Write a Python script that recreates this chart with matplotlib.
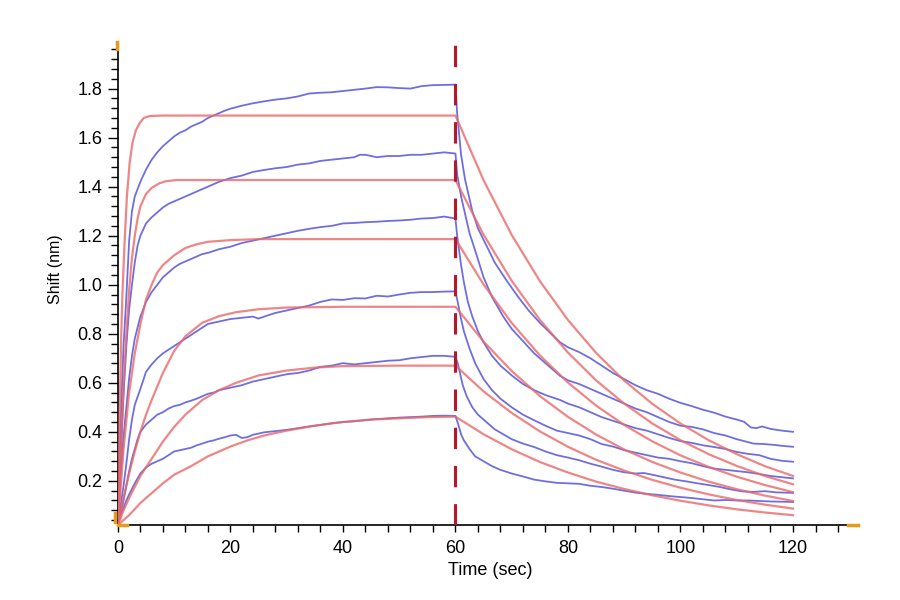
import numpy as np
import matplotlib.pyplot as plt

plt.rcParams['font.family'] = ['Liberation Sans', 'DejaVu Sans']

# fitted curves (red): association part, (time, shift)
fit1_assoc = [(0, 0.02), (0.3, 0.45), (0.6, 0.8), (0.8, 0.96), (1.2, 1.18), (1.6, 1.36),
              (2.1, 1.50), (2.6, 1.58), (3.2, 1.63), (3.9, 1.66), (4.6, 1.68), (5.6, 1.688),
              (8, 1.69), (60, 1.69)]
fit2_assoc = [(0, 0.02), (0.5, 0.3), (1, 0.58), (1.5, 0.8), (2, 0.98), (2.5, 1.11), (3, 1.20),
              (3.5, 1.27), (4, 1.32), (5, 1.37), (6, 1.395), (7.4, 1.414), (8.5, 1.422),
              (10.4, 1.427), (60, 1.427)]
fit3_assoc = [(0, 0.02), (1, 0.33), (2, 0.56), (3, 0.72), (4, 0.84), (5, 0.94), (6, 1.0),
              (7, 1.05), (8, 1.08), (10, 1.12), (12, 1.15), (14, 1.165), (16, 1.175),
              (20, 1.182), (25, 1.186), (60, 1.186)]
fit4_assoc = [(0, 0.02), (1, 0.13), (2, 0.23), (3, 0.32), (4, 0.40), (5, 0.47), (6, 0.53),
              (8, 0.64), (10, 0.73), (12, 0.79), (15, 0.845), (18, 0.872), (21, 0.888),
              (25, 0.90), (30, 0.907), (40, 0.91), (60, 0.91)]
fit5_assoc = [(0, 0.02), (1, 0.08), (2, 0.13), (4, 0.22), (6, 0.29), (8, 0.36), (10, 0.42),
              (12, 0.47), (15, 0.53), (18, 0.57), (21, 0.60), (25, 0.63), (30, 0.65),
              (35, 0.662), (40, 0.668), (50, 0.67), (60, 0.67)]
fit6_assoc = [(0, 0.02), (2, 0.06), (4, 0.11), (6, 0.15), (8, 0.19), (10, 0.225), (13, 0.26),
              (16, 0.30), (20, 0.34), (23, 0.365), (26, 0.385), (30, 0.405), (35, 0.425),
              (40, 0.44), (45, 0.45), (50, 0.455), (55, 0.46), (60, 0.462)]

# fitted curves (red): dissociation part
diss_t = [60, 65, 70, 75, 80, 85, 90, 95, 100, 105, 110, 115, 120]
fit1_diss = [1.69, 1.426, 1.203, 1.015, 0.856, 0.722, 0.609, 0.514, 0.434, 0.366, 0.309, 0.260, 0.220]
fit2_diss = [1.427, 1.204, 1.016, 0.857, 0.723, 0.610, 0.515, 0.434, 0.366, 0.309, 0.261, 0.220, 0.186]
fit3_diss = [1.186, 1.001, 0.844, 0.712, 0.601, 0.507, 0.428, 0.361, 0.304, 0.257, 0.217, 0.183, 0.154]
fit4_diss = [0.91, 0.768, 0.648, 0.546, 0.461, 0.389, 0.328, 0.277, 0.234, 0.197, 0.166, 0.140, 0.118]
fit5_diss = [0.67, 0.565, 0.477, 0.402, 0.339, 0.286, 0.242, 0.204, 0.172, 0.145, 0.122, 0.103, 0.087]
fit6_diss = [0.462, 0.390, 0.329, 0.277, 0.234, 0.197, 0.167, 0.141, 0.119, 0.100, 0.084, 0.071, 0.060]

# measured curves (blue), (time, shift)
raw1 = [(0, 0.02), (0.5, 0.45), (1, 0.75), (1.5, 0.95), (2, 1.18), (2.5, 1.30), (3, 1.36), (4, 1.42),
        (5, 1.47), (6, 1.51), (7, 1.54), (8, 1.565), (9, 1.585), (10, 1.605), (11, 1.62), (12, 1.63),
        (13, 1.645), (14, 1.655), (15, 1.665), (16, 1.68), (17, 1.69), (18, 1.70), (19, 1.71),
        (20, 1.718), (22, 1.73), (24, 1.74), (26, 1.748), (28, 1.755), (30, 1.76), (32, 1.768),
        (34, 1.78), (36, 1.783), (38, 1.785), (40, 1.79), (42, 1.795), (44, 1.80), (46, 1.806),
        (48, 1.805), (50, 1.802), (52, 1.80), (54, 1.81), (56, 1.814), (58, 1.815), (60, 1.816),
        (60.3, 1.70), (61, 1.53), (61.7, 1.43), (63, 1.30), (64, 1.23), (65.5, 1.16), (67, 1.09),
        (69, 1.02), (71, 0.955), (73, 0.895), (75, 0.845), (77, 0.80), (78.6, 0.765), (80, 0.745),
        (82, 0.725), (84, 0.70), (86, 0.67), (88, 0.64), (90, 0.615), (92, 0.59), (94, 0.57),
        (96, 0.555), (98, 0.535), (100, 0.518), (102, 0.505), (104, 0.49), (106, 0.478),
        (108, 0.462), (110, 0.45), (111.3, 0.441), (112.5, 0.418), (113.5, 0.415), (114.5, 0.422),
        (116, 0.412), (118, 0.405), (120, 0.40)]
raw2 = [(0, 0.02), (0.5, 0.3), (1, 0.55), (1.5, 0.75), (2, 0.90), (2.5, 1.0), (3, 1.09), (3.5, 1.16),
        (4, 1.20), (5, 1.25), (6, 1.275), (7, 1.295), (8, 1.315), (9, 1.33), (10, 1.34), (11, 1.35),
        (12, 1.36), (13, 1.37), (14, 1.38), (15, 1.39), (16, 1.40), (18, 1.42), (20, 1.435),
        (22, 1.445), (24, 1.46), (26, 1.468), (28, 1.475), (30, 1.48), (32, 1.49), (34, 1.495),
        (36, 1.505), (38, 1.51), (40, 1.515), (42, 1.52), (43, 1.53), (44, 1.53), (46, 1.52),
        (48, 1.525), (50, 1.525), (52, 1.53), (54, 1.53), (56, 1.535), (58, 1.54), (60, 1.535),
        (60.3, 1.45), (61, 1.36), (61.7, 1.29), (62.5, 1.21), (63.5, 1.14), (65, 1.03),
        (66.5, 0.95), (68.5, 0.87), (70, 0.82), (72, 0.77), (74, 0.72), (76, 0.68), (78.6, 0.628),
        (80, 0.61), (82, 0.595), (84, 0.575), (86, 0.555), (88, 0.535), (90, 0.515), (92, 0.495),
        (94, 0.48), (96, 0.46), (98, 0.44), (100, 0.425), (102, 0.42), (104, 0.41), (106, 0.395),
        (108, 0.385), (110, 0.37), (112, 0.358), (113, 0.352), (115, 0.35), (117, 0.346),
        (118, 0.343), (120, 0.339)]
raw3 = [(0, 0.02), (0.5, 0.22), (1, 0.38), (1.5, 0.5), (2, 0.62), (2.5, 0.71), (3, 0.78), (4, 0.87),
        (5, 0.93), (6, 0.97), (7, 1.0), (8, 1.03), (9, 1.05), (10, 1.07), (11, 1.085), (12, 1.095),
        (13, 1.105), (14, 1.115), (15, 1.125), (16, 1.13), (18, 1.145), (20, 1.155), (22, 1.17),
        (24, 1.18), (26, 1.19), (28, 1.20), (30, 1.21), (32, 1.22), (34, 1.228), (36, 1.235),
        (38, 1.24), (40, 1.25), (42, 1.252), (44, 1.255), (46, 1.257), (48, 1.26), (50, 1.262),
        (52, 1.265), (54, 1.27), (56, 1.272), (58, 1.278), (60, 1.27),
        (60.3, 1.20), (61, 1.08), (61.5, 1.01), (62.2, 0.93), (63, 0.87), (64, 0.81), (65, 0.765),
        (66.5, 0.71), (68, 0.67), (70, 0.63), (72, 0.595), (74, 0.57), (76, 0.55), (78.6, 0.53),
        (80, 0.515), (82, 0.50), (84, 0.48), (86, 0.46), (88, 0.445), (90, 0.43), (92, 0.415),
        (94, 0.405), (96, 0.39), (98, 0.375), (100, 0.362), (102, 0.355), (104, 0.345),
        (106, 0.338), (108, 0.33), (110, 0.318), (112, 0.31), (114, 0.305), (116, 0.29),
        (118, 0.282), (120, 0.278)]
raw4 = [(0, 0.02), (0.5, 0.10), (1, 0.18), (1.5, 0.27), (2, 0.37), (2.5, 0.45), (3, 0.51), (4, 0.575),
        (5, 0.645), (6, 0.675), (7, 0.70), (8, 0.72), (9, 0.735), (10, 0.75), (11, 0.765), (12, 0.78),
        (13, 0.795), (14, 0.81), (15, 0.825), (16, 0.84), (18, 0.85), (20, 0.86), (22, 0.865),
        (24, 0.87), (25, 0.862), (26, 0.87), (28, 0.885), (30, 0.895), (32, 0.905), (34, 0.915),
        (36, 0.93), (38, 0.94), (40, 0.938), (42, 0.945), (44, 0.944), (46, 0.955), (48, 0.952),
        (50, 0.96), (52, 0.967), (54, 0.97), (56, 0.97), (58, 0.972), (60, 0.973),
        (60.4, 0.93), (61, 0.86), (61.5, 0.81), (62.5, 0.74), (63.5, 0.68), (65, 0.615),
        (66.5, 0.57), (68, 0.535), (70, 0.50), (72, 0.47), (74, 0.447), (76, 0.425), (78, 0.405),
        (80, 0.395), (82, 0.385), (84, 0.37), (86, 0.35), (88, 0.34), (90, 0.325), (92, 0.315),
        (94, 0.305), (96, 0.295), (98, 0.29), (100, 0.28), (102, 0.272), (104, 0.26), (106, 0.25),
        (108, 0.245), (110, 0.24), (112, 0.235), (114, 0.228), (116, 0.22), (118, 0.215),
        (120, 0.21)]
raw5 = [(0, 0.02), (0.5, 0.07), (1, 0.12), (1.5, 0.18), (2, 0.24), (2.5, 0.29), (3, 0.33), (3.5, 0.37),
        (4, 0.40), (5, 0.43), (6, 0.45), (7, 0.47), (8, 0.48), (9, 0.495), (10, 0.505), (11, 0.51),
        (12, 0.52), (13, 0.527), (14, 0.535), (15, 0.545), (16, 0.555), (17, 0.56), (18, 0.57),
        (20, 0.58), (22, 0.59), (24, 0.605), (26, 0.615), (28, 0.625), (30, 0.635), (32, 0.64),
        (34, 0.65), (36, 0.665), (38, 0.67), (40, 0.68), (42, 0.675), (44, 0.68), (46, 0.685),
        (48, 0.69), (50, 0.692), (52, 0.70), (54, 0.705), (56, 0.71), (58, 0.71), (60, 0.706),
        (60.4, 0.68), (60.8, 0.64), (61.3, 0.59), (62, 0.545), (63, 0.50), (64, 0.47),
        (65.5, 0.44), (67, 0.41), (68.5, 0.39), (70, 0.37), (72, 0.352), (74, 0.338), (76, 0.32),
        (78, 0.305), (80, 0.295), (82, 0.284), (84, 0.27), (86, 0.258), (88, 0.245), (90, 0.235),
        (92, 0.23), (93.5, 0.232), (95, 0.225), (97, 0.215), (99, 0.205), (101, 0.198), (103, 0.19),
        (105, 0.183), (107, 0.175), (109, 0.165), (111, 0.157), (113, 0.155), (115, 0.158),
        (117, 0.153), (120, 0.151)]
raw6 = [(0, 0.02), (0.5, 0.06), (1, 0.09), (1.5, 0.12), (2, 0.145), (3, 0.19), (4, 0.23), (5, 0.255),
        (6, 0.27), (7, 0.28), (8, 0.29), (9, 0.305), (10, 0.32), (11, 0.325), (12, 0.33), (13, 0.335),
        (14, 0.345), (15, 0.352), (16, 0.36), (17, 0.365), (18, 0.372), (19, 0.378), (20, 0.385),
        (21, 0.388), (22, 0.375), (23, 0.378), (24, 0.388), (25, 0.393), (26, 0.398), (28, 0.403),
        (30, 0.408), (32, 0.415), (34, 0.422), (36, 0.428), (38, 0.435), (40, 0.44), (42, 0.443),
        (44, 0.448), (46, 0.452), (48, 0.455), (50, 0.458), (52, 0.46), (54, 0.462), (56, 0.465),
        (58, 0.466), (60, 0.465),
        (60.5, 0.43), (61, 0.39), (61.5, 0.365), (62.5, 0.33), (63.5, 0.30), (65, 0.28),
        (66.5, 0.26), (68, 0.245), (70, 0.23), (72, 0.218), (74, 0.205), (76, 0.198), (78, 0.192),
        (80, 0.19), (82, 0.188), (84, 0.18), (86, 0.175), (88, 0.168), (90, 0.16), (92, 0.152),
        (94, 0.147), (96, 0.143), (98, 0.138), (100, 0.134), (102, 0.13), (104, 0.125),
        (106, 0.12), (108, 0.122), (110, 0.12), (112, 0.12), (114, 0.118), (116, 0.116),
        (118, 0.115), (120, 0.114)]

switch_time = 60

fits = [(fit1_assoc, fit1_diss), (fit2_assoc, fit2_diss), (fit3_assoc, fit3_diss),
        (fit4_assoc, fit4_diss), (fit5_assoc, fit5_diss), (fit6_assoc, fit6_diss)]
raws = [raw1, raw2, raw3, raw4, raw5, raw6]

fig = plt.figure(figsize=(9, 6), dpi=100)
ax = fig.add_axes([0.131, 0.125, 0.822, 0.805])

blue = '#5555dd'
red = '#ec6868'

for r in raws:
    a = np.array(r)
    ax.plot(a[:, 0], a[:, 1], color=blue, lw=1.3, alpha=0.85, zorder=2)

for assoc, diss in fits:
    a = np.array(assoc)
    t = np.concatenate([a[:, 0], diss_t[1:]])
    v = np.concatenate([a[:, 1], diss[1:]])
    ax.plot(t, v, color=red, lw=1.6, alpha=0.8, zorder=3)

ax.axvline(switch_time, color='#b5182a', lw=2.2, linestyle=(0, (7, 5.5)), zorder=4)

ax.set_xlim(0, 131.5)
ax.set_ylim(0.02, 1.99)

ax.set_xticks([0, 20, 40, 60, 80, 100, 120])
ax.set_xticks(np.arange(0, 130, 4), minor=True)
ax.set_yticks([0.2, 0.4, 0.6, 0.8, 1.0, 1.2, 1.4, 1.6, 1.8])
ax.set_yticklabels(['0.2', '0.4', '0.6', '0.8', '1.0', '1.2', '1.4', '1.6', '1.8'])
ax.set_yticks(np.arange(0.04, 1.99, 0.04), minor=True)

ax.tick_params(axis='both', which='major', labelsize=13, color='black', width=1)
ax.tick_params(axis='y', which='major', length=7, pad=4)
ax.tick_params(axis='y', which='minor', length=5, width=1)
ax.tick_params(axis='x', which='major', length=5, pad=6)
ax.tick_params(axis='x', which='minor', length=5, width=1)

for s in ['top', 'right']:
    ax.spines[s].set_visible(False)
for s in ['left', 'bottom']:
    ax.spines[s].set_linewidth(1.2)
    ax.spines[s].set_color('black')

ax.set_xlabel('Time (sec)', fontsize=13)
ax.xaxis.set_label_coords(0.503, -0.077)
ax.set_ylabel('Shift (nm)', fontsize=11.5)
ax.yaxis.set_label_coords(-0.074, 0.53)

# orange range markers at the axis ends
orange = '#e89a1c'
ax.plot([0, 0.012], [0, 0], color=orange, lw=2.5, transform=ax.transAxes, clip_on=False, zorder=5)
ax.plot([-0.004, -0.004], [0.006, 0.025], color=orange, lw=2.5, transform=ax.transAxes, clip_on=False, zorder=5)
ax.plot([-0.001, -0.001], [0.985, 1.0], color=orange, lw=2.5, transform=ax.transAxes, clip_on=False, zorder=5)
ax.plot([0.987, 1.0], [0.001, 0.001], color=orange, lw=2.5, transform=ax.transAxes, clip_on=False, zorder=5)

fig.savefig('out.png', dpi=100)
